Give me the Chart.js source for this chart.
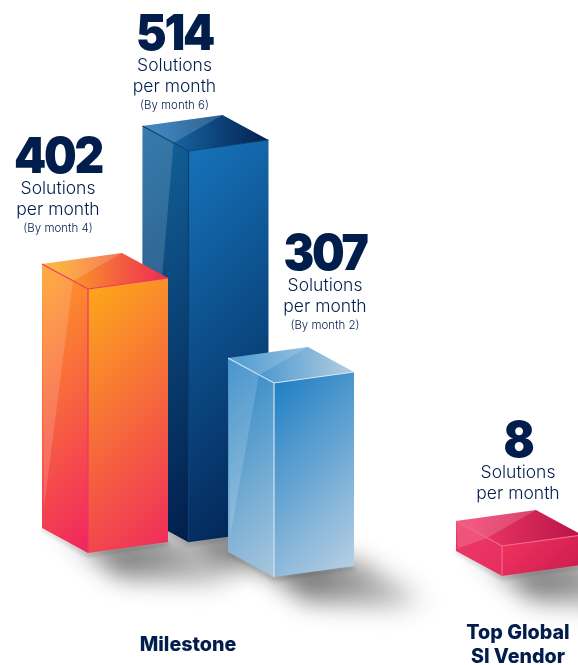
<!DOCTYPE html>
<html>
<head>
<meta charset="utf-8">
<script src="https://cdn.jsdelivr.net/npm/chart.js@4/dist/chart.umd.js"></script>
<style>
  html, body { margin: 0; padding: 0; background: #fff; }
  #wrap { width: 578px; height: 665px; }
</style>
</head>
<body>
<div id="wrap"><canvas id="myChart" width="578" height="665"></canvas></div>
<script>
// data
const categories = ['By month 4', 'By month 6', 'By month 2', 'Top Global SI Vendor'];
const solutions = [402, 514, 307, 8];
// the boxes stand at different depths, so each one has its own floor on the value axis
const floors = [0, 15, -48, -46];
const unitLines = ['Solutions', 'per month'];
const periodNotes = ['(By month 4)', '(By month 6)', '(By month 2)', ''];
const groupCaptions = [['Milestone'], ['Top Global', 'SI Vendor']];

const INK = '#011d4b';
const SANS = 'Inter, "Noto Sans", sans-serif';

// the picture is not drawn to a linear scale, so the value axis follows these stops
const yStops = [[-48, 577], [0, 553], [8, 546], [307, 383], [402, 289], [514, 151]];
const xCentres = [105, 205.5, 291, 519];

class PictureValueScale extends Chart.LinearScale {
    getPixelForValue(value) {
        const stops = this.options.stops;
        for (let i = 1; i < stops.length; i++) {
            if (value <= stops[i][0] || i === stops.length - 1) {
                const [v0, p0] = stops[i - 1];
                const [v1, p1] = stops[i];
                return p0 + (value - v0) / (v1 - v0) * (p1 - p0);
            }
        }
    }
}
PictureValueScale.id = 'pictureValue';
PictureValueScale.defaults = Chart.LinearScale.defaults;

class PlacedCategoryScale extends Chart.CategoryScale {
    getPixelForValue(value) {
        return this.options.centres[value];
    }
}
PlacedCategoryScale.id = 'placedCategory';
PlacedCategoryScale.defaults = Chart.CategoryScale.defaults;

Chart.register(PictureValueScale, PlacedCategoryScale);

// colours per box: [start, end] of each face, plus the edge line
const boxStyles = [
    { front: ['#fdab18', '#ef2a5d'], side: ['#ff9f22', '#f0245f'], top: ['#fba620', '#ee2955'], edge: '#f2326a' },
    { front: ['#1674bb', '#01204f'], side: ['#13659f', '#011e4b'], top: ['#1a6fb0', '#02204e'], edge: '#0b3f70' },
    { front: ['#1a7cc3', '#bcd2e4'], side: ['#2784c4', '#a9c7de'], top: ['#3a90cc', '#b6cfe1'], edge: '#d3e3ef' },
    { front: ['#f2345f', '#c91a4d'], side: ['#ec3a68', '#e62e5f'], top: ['#ee3a68', '#b91347'], edge: '#f4668a' }
];
const labelNudges = [[-47, -133], [-31, -118], [34, -130], [-1, -106]];
const captionPlaces = [[188, 645], [518, 633]];

function poly(ctx, pts, fill) {
    ctx.beginPath();
    pts.forEach((p, i) => (i ? ctx.lineTo(p[0], p[1]) : ctx.moveTo(p[0], p[1])));
    ctx.closePath();
    ctx.fillStyle = fill;
    ctx.fill();
}

function grad(ctx, x0, y0, x1, y1, c) {
    const g = ctx.createLinearGradient(x0, y0, x1, y1);
    g.addColorStop(0, c[0]);
    g.addColorStop(1, c[1]);
    return g;
}

// 45 degree gradient that ends in the far corner of a w x h face
function diag(ctx, x, y, w, h, c) {
    const k = (w + h) / 2;
    return grad(ctx, x, y, x + k, y + k, c);
}

// a floating bar that crosses zero can come back with y and base swapped
function corners(bar) {
    const top = Math.min(bar.y, bar.base);
    const bottom = Math.max(bar.y, bar.base);
    const left = bar.x - bar.width / 2;
    const fx = left + 46;
    const rx = left + bar.width;
    return {
        top: top, bottom: bottom, fx: fx, rx: rx, left: left,
        ft: [fx, top], fb: [fx, bottom],
        rt: [rx, top - 11], rb: [rx, bottom - 11],
        lt: [left, top - 25], lb: [left, bottom - 25],
        bk: [left + 80, top - 36]
    };
}

function drawShadow(ctx, bar) {
    const c = corners(bar);
    ctx.save();
    ctx.filter = 'blur(12px)';
    poly(ctx, [
        [c.lb[0] + 14, c.lb[1] - 2], [c.fb[0], c.fb[1] - 8], [c.rb[0], c.rb[1] - 8],
        [c.rb[0] + 72, c.rb[1] + 34], [c.rb[0] + 40, c.rb[1] + 42], [c.fb[0] + 30, c.fb[1] + 24]
    ], grad(ctx, c.fx + 40, c.bottom, c.rx + 72, c.bottom + 25, ['rgba(20,20,20,0.55)', 'rgba(20,20,20,0.18)']));
    ctx.filter = 'blur(2px)';
    poly(ctx, [c.lb, c.fb, c.rb, [c.rb[0], c.rb[1] + 3], [c.fb[0], c.fb[1] + 3], [c.lb[0], c.lb[1] + 2]], 'rgba(20,20,20,0.3)');
    ctx.restore();
}

function drawBox(ctx, bar, s) {
    const c = corners(bar);
    const h = c.bottom - c.top;
    // left side
    poly(ctx, [c.lt, c.ft, c.fb, c.lb], diag(ctx, c.left, c.top - 25, 46, h + 25, s.side));
    // right side
    poly(ctx, [c.ft, c.rt, c.rb, c.fb], diag(ctx, c.fx, c.top - 11, 80, h + 11, s.front));
    // top
    poly(ctx, [c.lt, c.bk, c.rt, c.ft], grad(ctx, c.left + 15, c.top, c.rx, c.top, s.top));
    // gloss on the left side and the top
    const shine = [c.left + 31, c.top - 8];
    poly(ctx, [c.lt, shine, [c.left + 2, c.lb[1] - h * 0.08]], 'rgba(255,255,255,0.15)');
    poly(ctx, [c.lt, c.bk, shine], 'rgba(255,255,255,0.16)');
    // edges
    ctx.strokeStyle = s.edge;
    ctx.lineWidth = 1.2;
    ctx.beginPath();
    ctx.moveTo(c.lt[0], c.lt[1]);
    ctx.lineTo(c.ft[0], c.ft[1]);
    ctx.lineTo(c.rt[0], c.rt[1]);
    ctx.moveTo(c.ft[0], c.ft[1]);
    ctx.lineTo(c.fb[0], c.fb[1]);
    ctx.stroke();
}

function drawLabels(ctx, bars) {
    ctx.save();
    ctx.textAlign = 'center';
    ctx.textBaseline = 'middle';
    ctx.fillStyle = INK;
    bars.forEach((bar, i) => {
        const c = corners(bar);
        const x = bar.x + labelNudges[i][0];
        const y = c.top + labelNudges[i][1];
        // the big figures are a little narrower than Inter's
        ctx.save();
        ctx.translate(x, y + 2);
        ctx.scale(0.92, 1);
        ctx.font = '900 50px ' + SANS;
        ctx.letterSpacing = '-2.5px';
        ctx.fillText(String(solutions[i]), 0, 0);
        ctx.restore();
        ctx.font = '300 17.5px ' + SANS;
        ctx.fillText(unitLines[0], x, y + 33);
        ctx.fillText(unitLines[1], x, y + 54);
        if (periodNotes[i]) {
            ctx.font = '300 11.5px ' + SANS;
            ctx.fillText(periodNotes[i], x, y + 73);
        }
    });
    ctx.font = '800 19.7px ' + SANS;
    groupCaptions.forEach((lines, g) => {
        lines.forEach((line, j) => {
            ctx.fillText(line, captionPlaces[g][0], captionPlaces[g][1] + j * 24);
        });
    });
    ctx.restore();
}

const boxPlugin = {
    id: 'boxes',
    afterDatasetsDraw(chart) {
        const ctx = chart.ctx;
        const bars = chart.getDatasetMeta(0).data;
        bars.forEach(bar => drawShadow(ctx, bar));
        const bottoms = bars.map(bar => corners(bar).bottom);
        const order = bars.map((b, i) => i).sort((a, b) => bottoms[a] - bottoms[b]);
        order.forEach(i => drawBox(ctx, bars[i], boxStyles[i]));
        drawLabels(ctx, bars);
    }
};

new Chart(document.getElementById('myChart').getContext('2d'), {
    type: 'bar',
    data: {
        labels: categories,
        datasets: [{
            label: 'Solutions per month',
            data: solutions.map((v, i) => [floors[i], v]),
            backgroundColor: 'rgba(0,0,0,0)',
            barThickness: 126
        }]
    },
    options: {
        responsive: false,
        animation: false,
        layout: { padding: 0 },
        plugins: { legend: { display: false }, tooltip: { enabled: false } },
        scales: {
            x: { type: 'placedCategory', centres: xCentres, display: false },
            y: { type: 'pictureValue', stops: yStops, min: -48, max: 514, display: false }
        }
    },
    plugins: [boxPlugin]
});
</script>
</body>
</html>
